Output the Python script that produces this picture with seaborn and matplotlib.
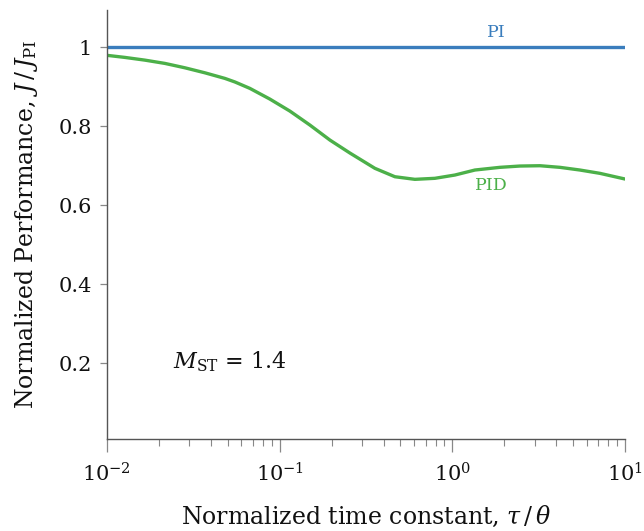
import matplotlib
matplotlib.use("Agg")
import matplotlib.pyplot as plt
import matplotlib.ticker as mticker
import seaborn as sns
import pandas as pd
import numpy as np

# Data
tau_pid = [0.01, 0.01271, 0.0166, 0.02167, 0.02829, 0.03693, 0.04823, 0.0551,
           0.0673, 0.08786, 0.1147, 0.1498, 0.1956, 0.2554, 0.3563, 0.4652,
           0.6073, 0.793, 1.035, 1.352, 1.886, 2.462, 3.215, 4.198, 5.481,
           7.156, 10.0]
perf_pid = [0.980, 0.9747, 0.9678, 0.9595, 0.9484, 0.9357, 0.9215, 0.9125,
            0.8962, 0.8691, 0.8387, 0.8033, 0.7653, 0.7324, 0.6937, 0.6724,
            0.6658, 0.6684, 0.6767, 0.6894, 0.6962, 0.6995, 0.7003, 0.6962,
            0.6894, 0.6810, 0.6666]
tau_pi = [0.01, 10.0]
perf_pi = [1.0, 1.0]
yticks = [0.2, 0.4, 0.6, 0.8, 1.0]
ytick_labels = ["0.2", "0.4", "0.6", "0.8", "1"]

sns.set_theme(style="ticks")
plt.rcParams["font.family"] = ["DejaVu Serif"]
plt.rcParams["mathtext.fontset"] = "dejavuserif"

blue = "#3a7dbd"
green = "#4cb049"

fig = plt.figure(figsize=(6.44, 5.31), dpi=100)
ax = fig.add_axes([0.166, 0.1733, 0.8045, 0.808])

df_pi = pd.DataFrame({"tau": tau_pi, "perf": perf_pi})
df_pid = pd.DataFrame({"tau": tau_pid, "perf": perf_pid})
sns.lineplot(data=df_pi, x="tau", y="perf", ax=ax, color=blue, lw=2.4)
sns.lineplot(data=df_pid, x="tau", y="perf", ax=ax, color=green, lw=2.4)

ax.set_xscale("log")
ax.set_xlim(0.01, 10)
ax.set_ylim(0.008, 1.095)
ax.set_yticks(yticks)
ax.set_yticklabels(ytick_labels)
ax.xaxis.set_major_locator(mticker.LogLocator(base=10, numticks=10))
ax.xaxis.set_minor_locator(mticker.LogLocator(base=10, subs=np.arange(2, 10), numticks=20))
ax.xaxis.set_minor_formatter(mticker.NullFormatter())

for s in ["top", "right"]:
    ax.spines[s].set_visible(False)
for s in ["left", "bottom"]:
    ax.spines[s].set_color("#555555")
    ax.spines[s].set_linewidth(1.0)

ax.tick_params(axis="y", which="major", length=5, width=0.9, color="#888888",
               labelsize=15, pad=6, labelcolor="#111111")
ax.tick_params(axis="x", which="major", length=9, width=0.9, color="#888888",
               labelsize=15, pad=8, labelcolor="#111111")
ax.tick_params(axis="x", which="minor", length=5, width=0.8, color="#888888")

ax.set_xlabel(r"Normalized time constant, $\tau\,/\,\theta$", fontsize=17, color="#111111", labelpad=13)
ax.set_ylabel(r"Normalized Performance, $J\,/\,J_{\mathrm{PI}}$", fontsize=17, color="#111111", labelpad=13)

ax.text(1.79, 1.039, "PI", color=blue, fontsize=12.5, ha="center", va="center")
ax.text(1.69, 0.649, "PID", color=green, fontsize=12.5, ha="center", va="center")
ax.text(0.0241, 0.203, r"$M_{\mathrm{ST}}$ = 1.4", fontsize=16, ha="left", va="center", color="#111111")

fig.savefig("out.png", dpi=100)
